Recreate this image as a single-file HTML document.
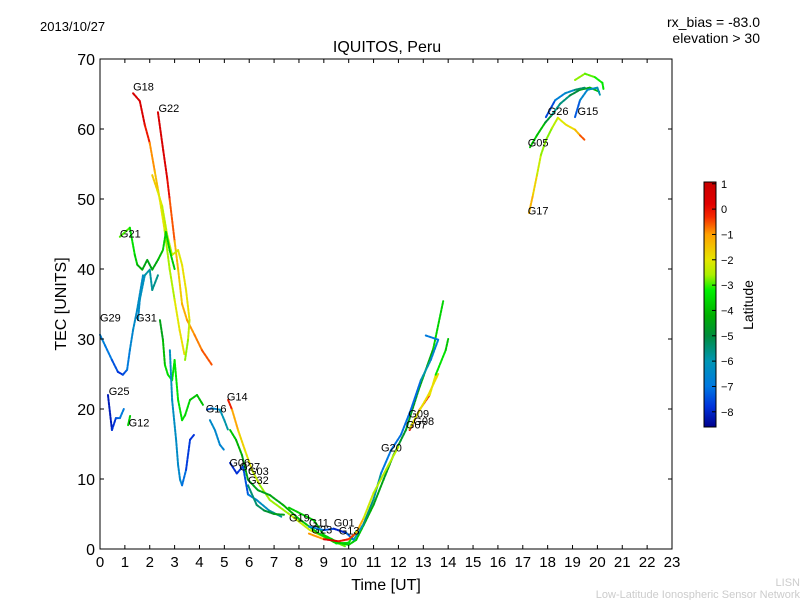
<!DOCTYPE html>
<html><head><meta charset="utf-8"><style>
body{margin:0;background:#fff}
svg text{font-family:"Liberation Sans","DejaVu Sans",sans-serif}
</style></head><body>
<svg id="c" width="800" height="600" xmlns="http://www.w3.org/2000/svg">
<rect width="800" height="600" fill="#fff"/>
<text x="40" y="31" font-size="13">2013/10/27</text>
<text x="760" y="27" font-size="14" text-anchor="end">rx_bias = -83.0</text>
<text x="760" y="43" font-size="14" text-anchor="end">elevation &gt; 30</text>
<text x="387" y="52" font-size="16" text-anchor="middle">IQUITOS, Peru</text>
<text x="66" y="304" font-size="16" text-anchor="middle" transform="rotate(-90 66 304)">TEC [UNITS]</text>
<text x="386" y="590" font-size="16" text-anchor="middle">Time [UT]</text>
<text x="753" y="305" font-size="14" text-anchor="middle" transform="rotate(-90 753 305)">Latitude</text>
<text x="800" y="586" font-size="11" fill="#ccc" text-anchor="end">LISN</text>
<text x="800" y="598" font-size="11" fill="#ccc" text-anchor="end">Low-Latitude Ionospheric Sensor Network</text>
<g id="plot"></g>
</svg>
<script>
const xTicks=[0,1,2,3,4,5,6,7,8,9,10,11,12,13,14,15,16,17,18,19,20,21,22,23];
const yTicks=[0,10,20,30,40,50,60,70];
const cbTicks=[1,0,-1,-2,-3,-4,-5,-6,-7,-8];
const satNames=["G18","G22","G21","G29","G31","G25","G12","G16","G14","G06","G27","G03","G32","G19","G11","G23","G01","G13","G20","G09","G08","G07","G17","G05","G26","G15"];
const satLabelPos=[[1.33,65.5],[2.35,62.4],[0.8,44.5],[0,32.5],[1.45,32.5],[0.35,22],[1.15,17.5],[4.25,19.5],[5.1,21.2],[5.2,11.8],[5.6,11.2],[5.95,10.6],[5.95,9.3],[7.6,3.9],[8.4,3.2],[8.5,2.2],[9.4,3.2],[9.6,2.1],[11.3,13.9],[12.4,18.8],[12.6,17.7],[12.3,17.2],[17.2,47.8],[17.2,57.5],[18.0,62],[19.2,62]];
// tracks: [time(h), TEC, latitude]
const trkG18=[[1.33,65.1,0.6],[1.6,64,0.6],[1.8,60.6,0.4],[2.0,58,-0.6],[2.2,54,-1.2],[2.4,50,-1.6],[2.6,45.5,-2.4],[2.8,40,-2.8],[3.0,35.6,-2.3],[3.2,31.3,-1.8],[3.4,27.7,-1.9]];
const trkG22=[[2.33,62.4,0.6],[2.54,57,0.5],[2.7,53,0.4],[2.8,50,-0.3],[3.0,44,-0.8],[3.14,40,-1.8],[3.3,35,-1.3],[3.5,32.7,-1.0],[3.8,30.6,-0.9],[4.1,28.4,-0.7],[4.5,26.3,-0.4]];
const trkY=[[2.1,53.4,-1.2],[2.3,51.3,-2.0],[2.5,49,-2.2],[2.7,44.9,-2.6],[2.9,42,-2.4],[3.14,42.7,-2.2],[3.3,40.6,-2.0],[3.46,37,-1.8],[3.6,32.7,-2.1],[3.54,29.9,-2.6],[3.42,27,-2.8]];
const trkG21=[[0.8,44.6,-2.6],[1.2,45.9,-3.3],[1.4,42,-3.6],[1.5,40.6,-3.9],[1.7,39.9,-4.6],[1.9,41.3,-4.3],[2.1,39.9,-4.6],[2.33,41.3,-4.2],[2.53,42.7,-3.8],[2.65,45.3,-3.6],[2.8,42.7,-3.8],[3.0,40,-3.7]];
const trkG21b=[[2.41,32.7,-4.6],[2.53,29.9,-4.4],[2.61,26.3,-3.6],[2.73,24.9,-3.5],[2.9,24.1,-3.5],[3.0,27,-3.3],[3.14,21.3,-3.4],[3.3,18.4,-3.5],[3.42,19.1,-3.4],[3.62,21.3,-3.8],[3.9,22,-4.0],[4.14,20.6,-3.9]];
const trkG31=[[1.53,32.7,-6.5],[1.6,35.6,-6.4],[1.8,39.1,-6.0],[2.0,39.9,-5.8],[2.1,37,-5.9],[2.33,39.1,-5.4]];
const trkG31b=[[2.81,28.4,-6.2],[2.9,21.3,-6.3],[3.06,15.6,-6.3],[3.14,12,-6.5],[3.22,9.9,-6.5],[3.3,9.1,-6.6],[3.46,11.3,-7.6],[3.62,15.6,-7.8],[3.78,16.3,-7.8]];
const trkG29=[[0,30.6,-6.6],[0.2,29.1,-6.9],[0.48,27,-7.1],[0.72,25.3,-7.8],[0.92,24.9,-7.8],[1.09,25.6,-7.1],[1.2,28.4,-6.7],[1.33,31.3,-6.5],[1.49,34.1,-6.4],[1.73,39.1,-6.3]];
const trkG25=[[0.32,22,-8.1],[0.48,17,-8.2],[0.64,18.7,-7.5],[0.8,18.7,-7.2],[0.97,20.1,-6.6]];
const trkG12=[[1.13,17.7,-3.8],[1.21,19,-3.6]];
const trkG16=[[4.3,19.9,-7.8],[4.5,20.1,-7.0],[4.82,19.9,-6.1],[5.0,18.4,-6.0],[5.15,17,-5.8]];
const trkG16b=[[4.42,18.4,-6.4],[4.62,17,-6.5],[4.82,14.9,-6.6],[5.0,14.1,-6.7]];
const trkG14=[[5.15,21.3,0.4],[5.31,19.9,-0.8],[5.55,17,-1.4],[5.83,14.1,-2.0],[6.11,11.3,-2.1],[6.43,9.1,-2.6],[6.83,7,-2.7],[7.64,4.9,-2.6],[8.44,2.7,-2.1],[9.25,1.3,-2.3],[9.85,0.4,-3.5]];
const trkGreen=[[5.23,17,-3.8],[5.47,15.6,-3.9],[5.71,13.4,-4.4],[5.95,9.9,-4.6],[6.35,8.4,-4.5],[6.83,7.7,-4.6],[7.36,6.3,-4.3],[8.0,4.3,-4.0],[8.8,2.2,-3.7],[9.5,0.8,-3.5],[10.0,0.9,-3.4],[10.3,2.5,-3.6]];
const trkG06=[[5.23,12.3,-7.9],[5.5,10.8,-8.0],[5.75,11.8,-7.6],[5.95,7.8,-7.3],[6.3,7.0,-6.6],[6.8,5.5,-6.0],[7.3,4.6,-5.5]];
const trkG32=[[5.95,9.1,-5.3],[6.3,6.3,-5.6],[6.6,5.5,-5.0],[7.0,5.0,-4.7],[7.4,4.9,-4.4]];
const trkU1=[[7.6,5.9,-3.5],[8.6,4.1,-4.0],[9.0,2.0,-3.8],[9.6,0.9,-3.7],[10.0,0.6,-3.8],[10.3,1.3,-3.7],[10.6,3.4,-4.0],[11.0,6.3,-4.4],[11.4,9.9,-4.6],[11.8,13.4,-4.8],[12.3,17,-4.7],[12.8,22.6,-4.5],[13.4,28.6,-4.0],[13.8,35.4,-3.3]];
const trkU2=[[8.4,3.2,-6.6],[9.0,2.7,-7.0],[9.4,2.9,-8.0],[9.9,2.3,-8.0],[10.2,1.3,-6.5],[10.6,3.6,-5.5],[11.0,7.1,-5.5],[11.3,10.8,-6.1],[11.7,14.1,-7.9],[12.1,16.3,-6.3],[12.5,19.9,-7.9],[12.9,24.1,-6.4],[13.3,27,-5.5],[13.6,29.9,-7.8],[13.1,30.5,-6.0]];
const trkU3=[[8.4,2.2,-2.2],[9.0,1.4,0.3],[9.6,1.1,0.4],[10.0,1.4,-0.5],[10.3,2.3,-0.3],[10.6,4.4,-2.1],[11.0,8,-2.4],[11.6,12,-2.6],[12.0,14.6,-2.3]];
const trkG09=[[12.45,17,0.5],[12.85,19.9,0.1],[13.26,22,-1.0],[13.5,24.9,-3.0],[13.9,28.4,-3.8],[14.0,30,-3.9]];
const trkG07=[[12.45,17.2,-2.1],[12.8,19.5,-2.0],[13.2,22,-1.8],[13.6,25,-1.9]];
const trkG17=[[17.25,48,-1.1],[17.41,50.6,-1.4],[17.57,53.4,-2.0],[17.73,56.3,-2.6],[17.93,58.4,-2.8],[18.17,60.1,-2.7],[18.41,61.6,-2.2],[18.74,60.6,-2.0],[19.1,59.9,-1.7],[19.3,59.1,-1.0],[19.5,58.4,-0.1]];
const trkG05=[[17.29,57.4,-3.7],[17.57,59.1,-3.8],[17.9,60.9,-4.1],[18.17,62,-5.6],[18.5,63.6,-5.7],[18.9,64.8,-5.4],[19.3,65.6,-4.6],[19.7,65.9,-4.2],[20.1,65.3,-3.8]];
const trkG26=[[17.93,61.7,-8.2],[18.3,64.1,-6.9],[18.7,65.1,-6.6],[19.1,65.6,-6.3],[19.5,65.9,-4.4]];
const trkTop=[[19.1,67,-2.6],[19.5,67.9,-2.8],[19.9,67.4,-3.0],[20.2,66.6,-3.3],[20.25,65.6,-3.5]];
const trkG15=[[19.1,61.7,-8.0],[19.3,64.1,-6.7],[19.6,65.6,-6.4],[20.0,65.9,-6.1],[20.1,64.9,-5.8]];
const tracks=[trkG18,trkG22,trkY,trkG21,trkG21b,trkG31,trkG31b,trkG29,trkG25,trkG12,trkG16,trkG16b,trkG14,trkGreen,trkG06,trkG32,trkU1,trkU2,trkU3,trkG09,trkG07,trkG17,trkG05,trkG26,trkTop,trkG15];

const X0=100,X1=672,Y0=549,Y1=59;
const xs=t=>X0+(t/23)*(X1-X0);
const ys=v=>Y0-(v/70)*(Y0-Y1);
const CBT=182,CBB=427,CMAX=1.07,CMIN=-8.6;
const cbY=v=>CBT+(CMAX-v)/(CMAX-CMIN)*(CBB-CBT);
const cmapStops=[[1.07,200,0,0],[0.2,225,0,0],[-0.3,245,40,0],[-1,255,160,0],[-2,230,230,0],[-2.6,170,240,0],[-3.2,0,240,0],[-4.2,0,175,0],[-5,0,140,60],[-6,0,150,180],[-7,0,120,225],[-7.8,0,50,220],[-8.6,0,0,140]];
function cmap(v){
 if(v>=cmapStops[0][0])return `rgb(${cmapStops[0][1]},0,0)`;
 for(let i=0;i<cmapStops.length-1;i++){
  const a=cmapStops[i],b=cmapStops[i+1];
  if(v<=a[0]&&v>=b[0]){const f=(a[0]-v)/(a[0]-b[0]);
   return `rgb(${Math.round(a[1]+f*(b[1]-a[1]))},${Math.round(a[2]+f*(b[2]-a[2]))},${Math.round(a[3]+f*(b[3]-a[3]))})`;}
 }
 return 'rgb(0,0,140)';
}
const NS="http://www.w3.org/2000/svg";
const g=document.getElementById('plot');
function mk(tag,a,p){const e=document.createElementNS(NS,tag);for(const k in a)e.setAttribute(k,a[k]);(p||g).appendChild(e);return e;}

tracks.forEach(tr=>{
 for(let i=0;i<tr.length-1;i++){
  const a=tr[i],b=tr[i+1];
  const l=mk('line',{x1:xs(a[0]),y1:ys(a[1]),x2:xs(b[0]),y2:ys(b[1]),stroke:cmap((a[2]+b[2])/2),'stroke-width':2,'stroke-linecap':'round','stroke-dasharray':'2.5 1.2'});
  
  
 }
});
satNames.forEach((n,i)=>{
 const t=mk('text',{x:xs(satLabelPos[i][0]),y:ys(satLabelPos[i][1]),'font-size':11});
 t.textContent=n;
 
 
});
const fr=mk('rect',{x:X0,y:Y1,width:X1-X0,height:Y0-Y1,fill:'none',stroke:'#000','stroke-width':1});


xTicks.forEach(t=>{
 const x=xs(t);
 mk('line',{x1:x,y1:Y0,x2:x,y2:Y0-4,stroke:'#000'});
 mk('line',{x1:x,y1:Y1,x2:x,y2:Y1+4,stroke:'#000'});
 const l=mk('text',{x:x,y:Y0+18,'font-size':15,'text-anchor':'middle'});
 l.textContent=t;
 
 
});
yTicks.forEach(v=>{
 const y=ys(v);
 mk('line',{x1:X0,y1:y,x2:X0+4,y2:y,stroke:'#000'});
 mk('line',{x1:X1,y1:y,x2:X1-4,y2:y,stroke:'#000'});
 const l=mk('text',{x:X0-5,y:y+6,'font-size':16,'text-anchor':'end'});
 l.textContent=v;
 
 
});
for(let y=CBT;y<CBB;y++){
 const v=CMAX-(y-CBT+0.5)/(CBB-CBT)*(CMAX-CMIN);
 mk('rect',{x:704,y:y,width:12,height:1.2,fill:cmap(v)});
}
const cb=mk('rect',{x:704,y:CBT,width:12,height:CBB-CBT,fill:'none',stroke:'#000'});


cbTicks.forEach(v=>{
 const y=cbY(v);
 mk('line',{x1:712,y1:y,x2:716,y2:y,stroke:'#000'});
 const l=mk('text',{x:721,y:y+4,'font-size':11});
 l.textContent=v<0?'\u2212'+(-v):v;
 
 
});
</script>
</body></html>
